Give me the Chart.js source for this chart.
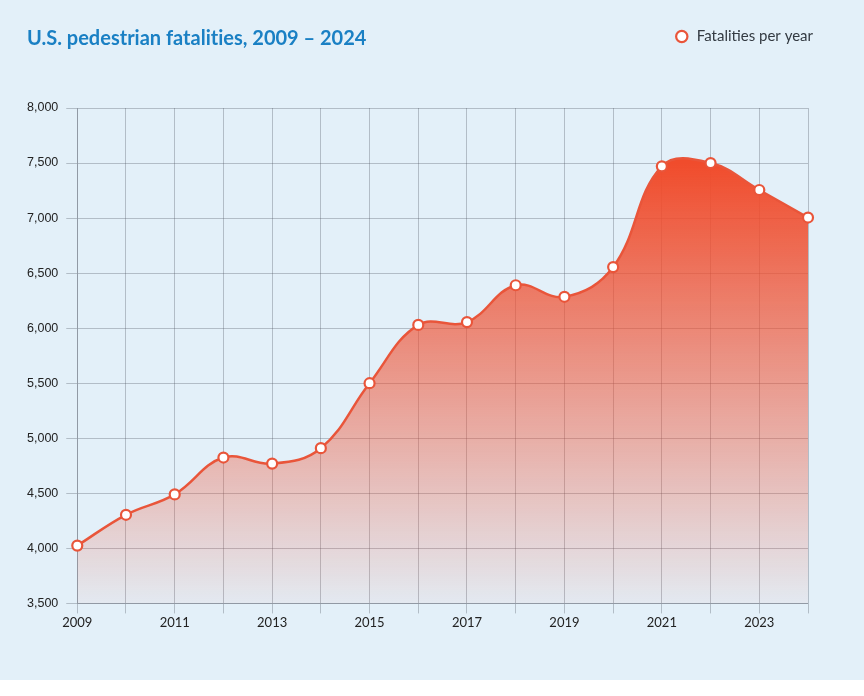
<!DOCTYPE html>
<html>
<head>
<meta charset="utf-8">
<script src="https://cdn.jsdelivr.net/npm/chart.js@4.4.1/dist/chart.umd.min.js"></script>
<style>
  html, body { margin: 0; padding: 0; background: #ffffff; }
  #wrap { position: relative; width: 864px; height: 680px; background: #e3f0f9; }
  #title {
    position: absolute; left: 27px; top: 24px; margin: 0;
    font: bold 20px Lato, sans-serif; line-height: 26px; color: #1a80c4;
    font-variant-ligatures: none;
  }
</style>
</head>
<body>
<div id="wrap">
  <canvas id="mycanvas" width="864" height="680"></canvas>
  <h1 id="title">U.S. pedestrian fatalities, 2009 – 2024</h1>
</div>
<script>
var years = ['2009', '2010', '2011', '2012', '2013', '2014', '2015', '2016',
             '2017', '2018', '2019', '2020', '2021', '2022', '2023', '2024'];
var fatalities = [4025, 4305, 4490, 4825, 4770, 4910, 5500, 6030,
                  6055, 6390, 6285, 6555, 7470, 7500, 7255, 7005];
var yTicks = [3500, 4000, 4500, 5000, 5500, 6000, 6500, 7000, 7500, 8000];

var red = '#e9553a';
var gridColor = 'rgba(75, 82, 92, 0.32)';

// extra room under the legend so the plot starts lower
var legendSpace = {
  id: 'legendSpace',
  beforeInit: function(chart) {
    var fit = chart.legend.fit;
    chart.legend.fit = function() {
      fit.call(this);
      this.height += 54;
    };
  }
};

function areaFill(context) {
  var chart = context.chart;
  var area = chart.chartArea;
  if (!area) return 'rgba(240, 78, 48, 0.5)';
  var top = chart.scales.y.getPixelForValue(Math.max.apply(null, fatalities));
  var g = chart.ctx.createLinearGradient(0, top, 0, area.bottom);
  g.addColorStop(0, 'rgba(240, 76, 44, 1)');
  g.addColorStop(1, 'rgba(240, 76, 44, 0.04)');
  return g;
}

var ctx = document.getElementById('mycanvas');
var lineGraph = new Chart(ctx, {
  type: 'line',
  data: {
    labels: years,
    datasets: [{
      label: 'Fatalities per year',
      data: fatalities,
      borderColor: red,
      borderWidth: 2.5,
      backgroundColor: areaFill,
      fill: 'start',
      tension: 0.4,
      pointRadius: 5,
      pointHoverRadius: 5,
      pointBackgroundColor: '#ffffff',
      pointBorderColor: red,
      pointBorderWidth: 2.2,
      clip: false
    }]
  },
  options: {
    responsive: false,
    animation: false,
    layout: { padding: { left: 19, right: 41, top: 19, bottom: 47 } },
    plugins: {
      legend: {
        position: 'top',
        align: 'end',
        labels: {
          usePointStyle: true,
          boxWidth: 15,
          boxHeight: 8,
          color: '#333a42',
          font: { family: 'Lato', size: 15 }
        }
      },
      title: { display: false },
      tooltip: { enabled: false }
    },
    scales: {
      x: {
        grid: { color: gridColor, tickLength: 10, tickColor: gridColor },
        border: { color: gridColor },
        ticks: {
          autoSkip: false,
          maxRotation: 0,
          padding: 2,
          color: '#222222',
          font: { family: 'Lato', size: 13 },
          callback: function(value, index) {
            return index % 2 === 0 ? years[index] : '';
          }
        }
      },
      y: {
        min: yTicks[0],
        max: yTicks[yTicks.length - 1],
        afterBuildTicks: function(scale) {
          scale.ticks = yTicks.map(function(v) { return { value: v }; });
        },
        grid: { color: gridColor, tickLength: 11, tickColor: gridColor },
        border: { color: gridColor },
        ticks: {
          padding: 8,
          color: '#222222',
          font: { family: 'Liberation Sans', size: 12.5 },
          callback: function(value) { return value.toLocaleString('en-US'); }
        }
      },
      rightGap: {
        position: 'right',
        display: true,
        grid: { display: false },
        border: { display: false },
        ticks: { display: false },
        afterFit: function(scale) { scale.width = 15; }
      }
    }
  },
  plugins: [legendSpace]
});
</script>
</body>
</html>
